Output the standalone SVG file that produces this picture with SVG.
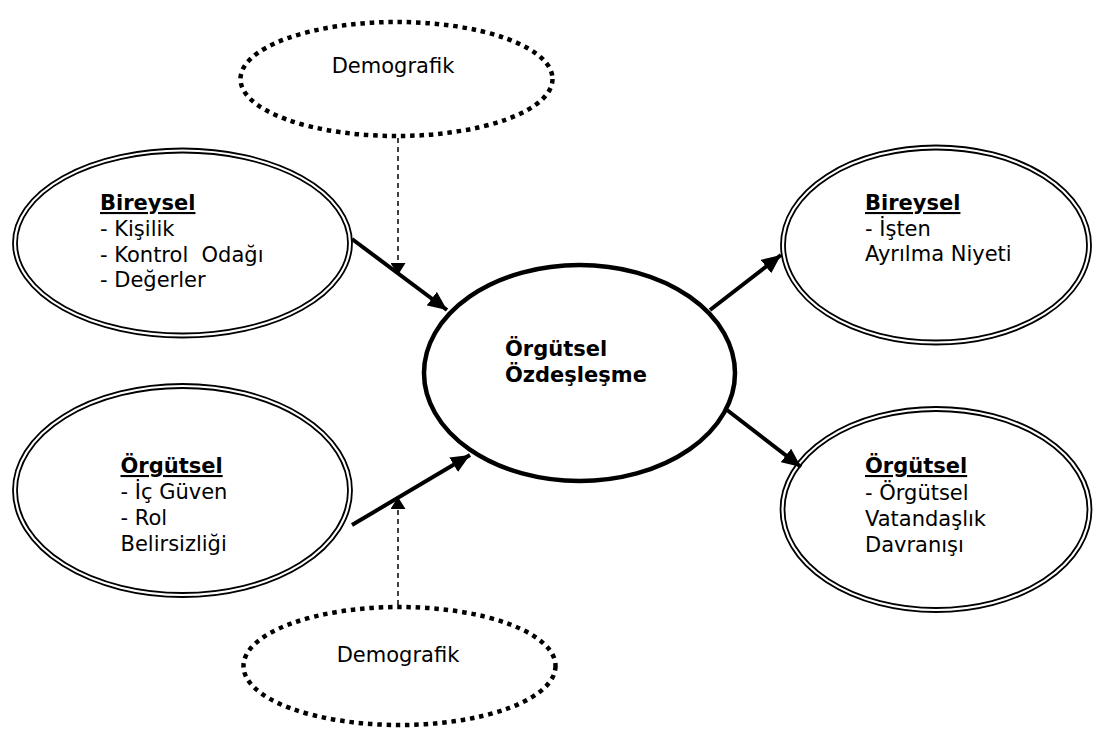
<svg xmlns="http://www.w3.org/2000/svg" width="1101" height="730" viewBox="0 0 1101 730">
  <style>
    .dbl { fill: none; stroke: #000; stroke-width: 1.8; }
    .dot { fill: none; stroke: #000; stroke-width: 4.5; stroke-dasharray: 4.5 4.8; }
    .core { fill: none; stroke: #000; stroke-width: 4.5; }
    .t { font-family: "DejaVu Sans", Verdana, sans-serif; font-size: 21px; fill: #000; white-space: pre; }
    .b { font-weight: bold; }
    .u { text-decoration: underline; }
    .flow { stroke: #000; stroke-width: 4; fill: none; }
    .mod { stroke: #000; stroke-width: 1.5; stroke-dasharray: 5 4; fill: none; }
  </style>
  <defs>
    <marker id="head" viewBox="0 0 10 10" refX="10" refY="5" markerWidth="19" markerHeight="17" orient="auto" markerUnits="userSpaceOnUse" preserveAspectRatio="none">
      <path d="M0,0 L10,5 L0,10 Z" fill="#000"/>
    </marker>
    <marker id="headThin" viewBox="0 0 10 10" refX="10" refY="5" markerWidth="12" markerHeight="15" orient="auto" markerUnits="userSpaceOnUse" preserveAspectRatio="none">
      <path d="M0,0 L10,5 L0,10 Z" fill="#000"/>
    </marker>
  </defs>
  <rect width="1101" height="730" fill="#fff"/>

  <!-- connectors -->
  <g id="connectors">
    <line class="flow" x1="352" y1="239" x2="447" y2="310" marker-end="url(#head)"/>
    <line class="flow" x1="352" y1="525" x2="470" y2="455" marker-end="url(#head)"/>
    <line class="flow" x1="710" y1="310" x2="781" y2="255" marker-end="url(#head)"/>
    <line class="flow" x1="727" y1="410" x2="801" y2="467" marker-end="url(#head)"/>
    <line class="mod" x1="398" y1="138" x2="398" y2="275" marker-end="url(#headThin)"/>
    <line class="mod" x1="398" y1="605" x2="398" y2="497" marker-end="url(#headThin)"/>
  </g>

  <!-- moderator: top -->
  <g id="demografik-top">
    <ellipse class="dot" cx="396.5" cy="79" rx="156" ry="57"/>
    <text class="t" x="393" y="73" text-anchor="middle">Demografik</text>
  </g>

  <!-- antecedent: individual -->
  <g id="bireysel-on">
    <ellipse class="dbl" cx="182.5" cy="243" rx="169.5" ry="94.5"/>
    <ellipse class="dbl" cx="182.5" cy="243" rx="165.5" ry="90.5"/>
    <text class="t" x="100" y="210"><tspan class="b u">Bireysel</tspan><tspan x="100" y="236">- Kişilik</tspan><tspan x="100" y="261.5">- Kontrol&#160; Odağı</tspan><tspan x="100" y="287">- Değerler</tspan></text>
  </g>

  <!-- antecedent: organizational -->
  <g id="orgutsel-on">
    <ellipse class="dbl" cx="182.5" cy="490.5" rx="169.5" ry="106.5"/>
    <ellipse class="dbl" cx="182.5" cy="490.5" rx="165.5" ry="102.5"/>
    <text class="t" x="120.5" y="473"><tspan class="b u">Örgütsel</tspan><tspan x="120.5" y="499">- İç Güven</tspan><tspan x="120.5" y="525">- Rol</tspan><tspan x="120.5" y="551">Belirsizliği</tspan></text>
  </g>

  <!-- central construct -->
  <g id="ozdeslesme">
    <ellipse class="core" cx="579.5" cy="373" rx="155.5" ry="108"/>
    <text class="t b" x="505" y="356">Örgütsel<tspan x="505" y="381.5">Özdeşleşme</tspan></text>
  </g>

  <!-- outcome: individual -->
  <g id="bireysel-sonuc">
    <ellipse class="dbl" cx="936" cy="245" rx="155" ry="99.5"/>
    <ellipse class="dbl" cx="936" cy="245" rx="151" ry="95.5"/>
    <text class="t" x="865" y="210"><tspan class="b u">Bireysel</tspan><tspan x="865" y="235.5">- İşten</tspan><tspan x="865" y="261">Ayrılma Niyeti</tspan></text>
  </g>

  <!-- outcome: organizational -->
  <g id="orgutsel-sonuc">
    <ellipse class="dbl" cx="936" cy="509.5" rx="155.5" ry="102.5"/>
    <ellipse class="dbl" cx="936" cy="509.5" rx="151.5" ry="98.5"/>
    <text class="t" x="865" y="473"><tspan class="b u">Örgütsel</tspan><tspan x="865" y="499.5">- Örgütsel</tspan><tspan x="865" y="525.5">Vatandaşlık</tspan><tspan x="865" y="551.5">Davranışı</tspan></text>
  </g>

  <!-- moderator: bottom -->
  <g id="demografik-bottom">
    <ellipse class="dot" cx="399.5" cy="666" rx="156" ry="59"/>
    <text class="t" x="398" y="662" text-anchor="middle">Demografik</text>
  </g>
</svg>
